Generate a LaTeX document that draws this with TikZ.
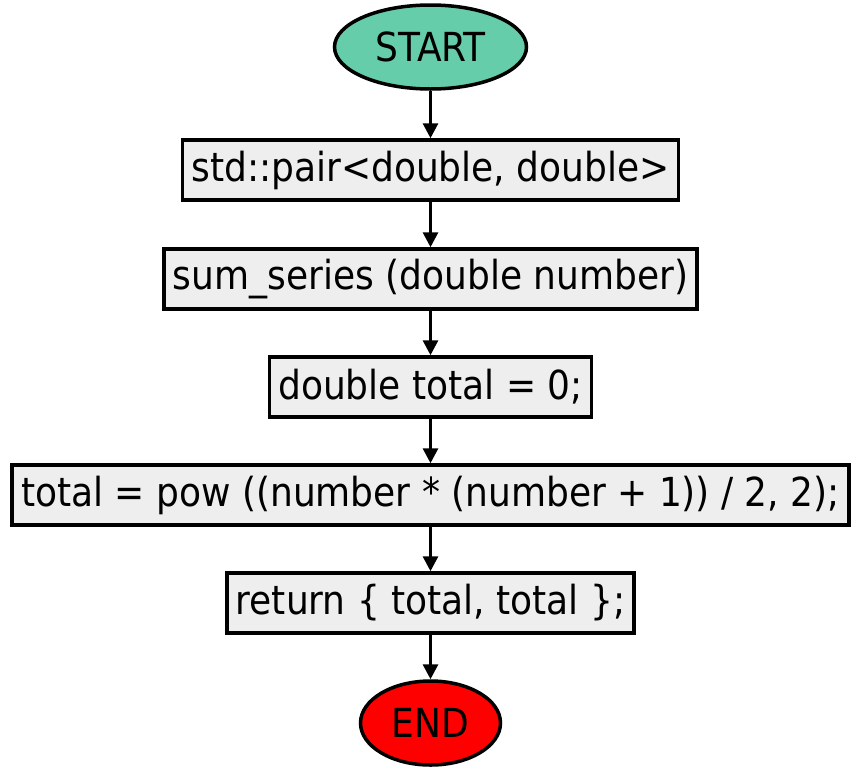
\documentclass[tikz,border=0pt]{standalone}
\usepackage{fontspec}
\setmainfont{DejaVu Sans Condensed}
\usetikzlibrary{shapes.geometric,arrows.meta}
\begin{document}
\begin{tikzpicture}[x=1pt,y=-1pt,
  every node/.style={font=\fontsize{40}{46}\selectfont},
  term/.style={ellipse,draw,line width=3.5pt,minimum width=192pt,minimum height=84pt,inner sep=0pt},
  proc/.style={rectangle,draw,line width=3.5pt,fill=boxgray,minimum height=60pt,inner xsep=9pt,inner ysep=0pt},
  conn/.style={line width=3pt,-{Triangle[length=15pt,width=15pt]}}]
\definecolor{boxgray}{HTML}{EEEEEE}
\definecolor{startgreen}{HTML}{66CDAA}
\useasboundingbox (0,0) rectangle (861,774);
\node[term,fill=startgreen] (start) at (430.5,47) {START};
\node[proc] (b1) at (430.5,170) {std::pair<double, double>};
\node[proc] (b2) at (430.5,279) {sum\_series (double number)};
\node[proc] (b3) at (430.5,387) {double total = 0;};
\node[proc] (b4) at (430.5,495) {total = pow ((number * (number + 1)) / 2, 2);};
\node[proc] (b5) at (430.5,603) {return \{ total, total \};};
\node[term,fill=red,minimum width=140pt] (end) at (430.5,723) {END};
\draw[conn] (start) -- (b1);
\draw[conn] (b1) -- (b2);
\draw[conn] (b2) -- (b3);
\draw[conn] (b3) -- (b4);
\draw[conn] (b4) -- (b5);
\draw[conn] (b5) -- (end);
\end{tikzpicture}
\end{document}
